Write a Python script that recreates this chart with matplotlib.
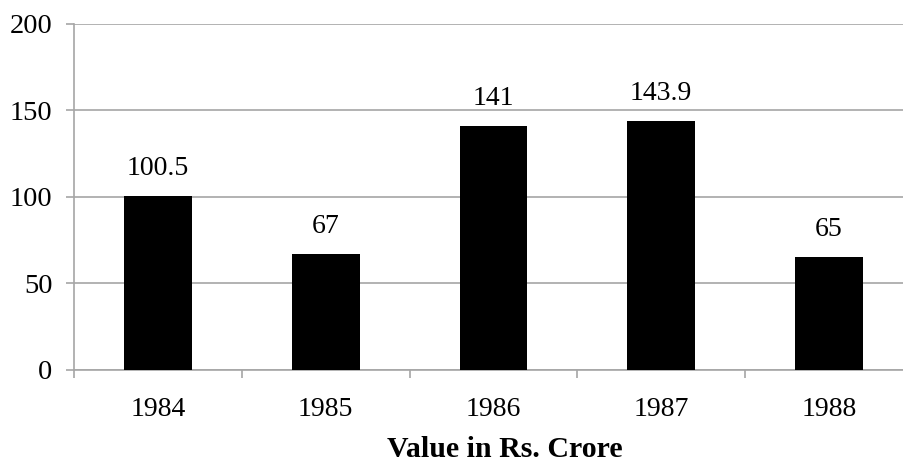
import matplotlib

matplotlib.use("Agg")
import matplotlib.pyplot as plt

# datos
anios = ["1984", "1985", "1986", "1987", "1988"]
valores = [100.5, 67, 141, 143.9, 65]
etiquetas = ["100.5", "67", "141", "143.9", "65"]
ticks_y = [0, 50, 100, 150, 200]

plt.rcParams["font.family"] = ["Liberation Serif", "DejaVu Serif"]
gris = "#a6a6a6"

fig = plt.figure(figsize=(9.04, 4.62), dpi=100)
ax = fig.add_axes([0.0819, 0.2002, 0.928, 0.7485])

x = list(range(len(anios)))
ax.bar(x, valores, width=0.405, color="black", zorder=3)

for xi, v, txt in zip(x, valores, etiquetas):
    ax.annotate(txt, (xi, v), xytext=(0, 15), textcoords="offset points",
                ha="center", va="baseline", fontsize=20)

ax.set_xlim(-0.5, len(anios) - 0.5)
ax.set_ylim(0, 200)
ax.set_yticks(ticks_y)
ax.set_xticks(x)
ax.set_xticklabels(anios)
ax.set_xticks([i - 0.5 for i in range(len(anios) + 1)], minor=True)

ax.yaxis.grid(True, color=gris, linewidth=1.2, zorder=0)
ax.set_axisbelow(True)
for lado in ["top", "right"]:
    ax.spines[lado].set_visible(False)
for lado in ["left", "bottom"]:
    ax.spines[lado].set_color(gris)
    ax.spines[lado].set_linewidth(1.2)

ax.tick_params(axis="y", length=5.5, color=gris, width=1.2, pad=10, labelsize=20.5)
ax.tick_params(axis="x", which="major", length=0, pad=20, labelsize=20)
ax.tick_params(axis="x", which="minor", length=6, color=gris, width=1.2)

# titulo del eje x, algo desplazado a la derecha como en el original
fig.text(505 / 904, 5 / 462, "Value in Rs. Crore", fontsize=21.5, fontweight="bold",
         ha="center", va="baseline")

fig.savefig("out.png", dpi=100)
